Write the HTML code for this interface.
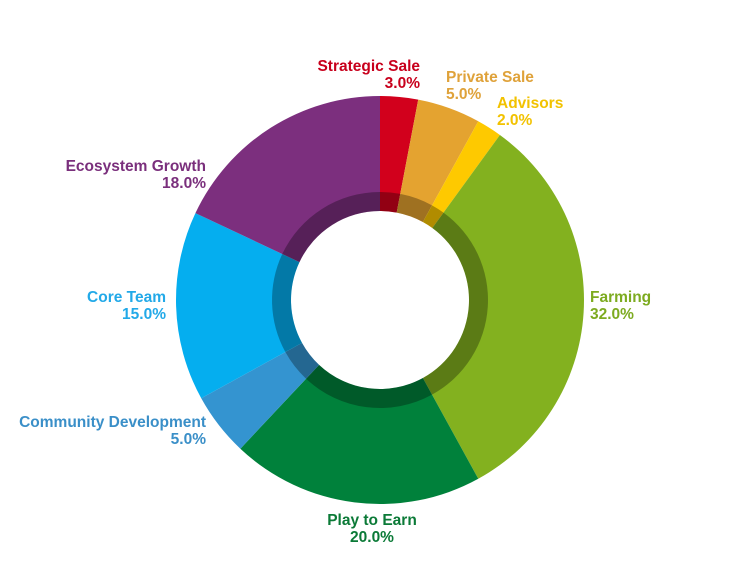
<!DOCTYPE html>
<html><head><meta charset="utf-8"><style>
body{margin:0;background:#fff;}
svg{display:block;}
text{font-family:"Liberation Sans",sans-serif;font-size:15.5px;font-weight:bold;}
</style></head><body>
<svg id="chart" width="750" height="578" viewBox="0 0 750 578"></svg>
<script>
const categories=["Strategic Sale","Private Sale","Advisors","Farming","Play to Earn","Community Development","Core Team","Ecosystem Growth"];
const values=[3,5,2,32,20,5,15,18];
const valueLabels=["3.0%","5.0%","2.0%","32.0%","20.0%","5.0%","15.0%","18.0%"];
const colors=["#d2001c","#e4a330","#fec900","#83b11f","#00813b","#3494d0","#05aeef","#7c2f7e"];
const labelColors=["#c8001c","#dfa23a","#f2c200","#7dab20","#0b7a37","#3a8fc8","#22a9e8","#7a2f7c"];
const labelPos=[[420,71,"end"],[446,82,"start"],[497,108,"start"],[590,302,"start"],[372,525,"middle"],[206,427,"end"],[166,302,"end"],[206,171,"end"]];
const svg=document.getElementById('chart');
const NS="http://www.w3.org/2000/svg";
const cx=380,cy=300,R=204,Rd=108,Ri=89;
const total=values.reduce((a,b)=>a+b,0);
function pt(r,f){const a=f*2*Math.PI-Math.PI/2;return [cx+r*Math.cos(a),cy+r*Math.sin(a)];}
function arc(r1,r2,f0,f1){const l=(f1-f0)>0.5?1:0;const a=pt(r2,f0),b=pt(r2,f1),c=pt(r1,f1),d=pt(r1,f0);
return `M${a[0]},${a[1]}A${r2},${r2} 0 ${l} 1 ${b[0]},${b[1]}L${c[0]},${c[1]}A${r1},${r1} 0 ${l} 0 ${d[0]},${d[1]}Z`;}
let acc=0;
values.forEach((v,i)=>{
  const f0=acc/total,f1=(acc+v)/total;acc+=v;
  const p=document.createElementNS(NS,'path');
  p.setAttribute('d',arc(Ri,R,f0,f1));p.setAttribute('fill',colors[i]);
  
  
  svg.appendChild(p);
  const s=document.createElementNS(NS,'path');
  s.setAttribute('d',arc(Ri,Rd,f0,f1));s.setAttribute('fill','rgba(0,0,0,0.3)');
  
  
  svg.appendChild(s);
});
values.forEach((v,i)=>{
  const [x,y,anc]=labelPos[i];
  const t=document.createElementNS(NS,'text');
  t.setAttribute('x',x);t.setAttribute('y',y);t.setAttribute('text-anchor',anc);t.setAttribute('fill',labelColors[i]);
  
  
  t.textContent=categories[i];svg.appendChild(t);
  const t2=document.createElementNS(NS,'text');
  t2.setAttribute('x',x);t2.setAttribute('y',y+17);t2.setAttribute('text-anchor',anc);t2.setAttribute('fill',labelColors[i]);
  
  
  t2.textContent=valueLabels[i];svg.appendChild(t2);
});
</script>
</body></html>
